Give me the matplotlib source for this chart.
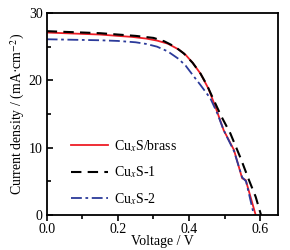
import numpy as np
import matplotlib.pyplot as plt
from matplotlib.ticker import MultipleLocator

plt.rcParams['font.family'] = ['Liberation Serif', 'DejaVu Serif']
plt.rcParams['mathtext.fontset'] = 'stix'

# J-V curves
v_brass = [0, 0.05, 0.1, 0.15, 0.2, 0.24, 0.28, 0.31, 0.34, 0.37, 0.39, 0.41, 0.432, 0.455, 0.475, 0.497, 0.526, 0.549, 0.559, 0.587]
j_brass = [27.1, 27.0, 26.9, 26.8, 26.6, 26.45, 26.2, 25.9, 25.45, 24.6, 23.8, 22.6, 21.0, 18.7, 15.9, 12.6, 9.66, 5.45, 5.2, 0]

v_s1 = [0, 0.05, 0.1, 0.15, 0.2, 0.25, 0.3, 0.33, 0.36, 0.385, 0.41, 0.432, 0.45, 0.469, 0.49, 0.516, 0.545, 0.568, 0.587, 0.602]
j_s1 = [27.3, 27.2, 27.1, 27.0, 26.8, 26.6, 26.3, 25.8, 25.0, 24.0, 22.6, 21.0, 19.3, 17.1, 14.7, 12.1, 8.4, 5.2, 2.7, 0]

v_s2 = [0, 0.05, 0.1, 0.15, 0.2, 0.25, 0.28, 0.31, 0.34, 0.37, 0.39, 0.41, 0.432, 0.46, 0.48, 0.497, 0.526, 0.549, 0.56, 0.582]
j_s2 = [26.1, 26.05, 26.0, 25.95, 25.85, 25.65, 25.4, 25.0, 24.3, 23.2, 22.2, 20.8, 19.3, 17.3, 15.0, 12.6, 9.5, 5.6, 5.0, 0]

labels = ['Cu$_x$S/brass', 'Cu$_x$S-1', 'Cu$_x$S-2']

fig = plt.figure(figsize=(2.9, 2.5), dpi=100)
ax = fig.add_axes([0.161, 0.14, 0.798, 0.808])

ax.plot(v_brass, j_brass, color='#ee1c25', lw=1.3, label=labels[0])
ax.plot(v_s1, j_s1, color='black', lw=1.5, ls=(0, (5, 3)), label=labels[1])
ax.plot(v_s2, j_s2, color='#2b3a9a', lw=1.3, ls=(0, (6, 2, 1.5, 2)), label=labels[2])

ax.set_xlim(0, 0.65)
ax.set_ylim(0, 30)
ax.xaxis.set_minor_locator(MultipleLocator(0.1))
ax.yaxis.set_major_locator(MultipleLocator(10))
ax.yaxis.set_minor_locator(MultipleLocator(5))
ax.set_xticks([0, 0.2, 0.4, 0.6])
ax.set_xticklabels(['0.0', '0.2', '0.4', '0.6'])
ax.tick_params(axis='x', which='both', direction='out', labelsize=10, width=1.2, pad=2)
ax.tick_params(axis='y', which='both', direction='in', labelsize=10, width=1.2, pad=3)
ax.tick_params(which='major', length=4)
ax.tick_params(which='minor', length=3)
for s in ax.spines.values():
    s.set_linewidth(1.3)

ax.set_xlabel('Voltage / V', fontsize=10, labelpad=-1)
ax.set_ylabel('Current density / (mA·cm$^{-2}$)', fontsize=10, labelpad=1)

ax.legend(loc='lower left', bbox_to_anchor=(0.05, -0.02), frameon=False, fontsize=10,
          handlelength=2.7, labelspacing=0.75, handletextpad=0.4)

fig.savefig('out.png', dpi=100)
